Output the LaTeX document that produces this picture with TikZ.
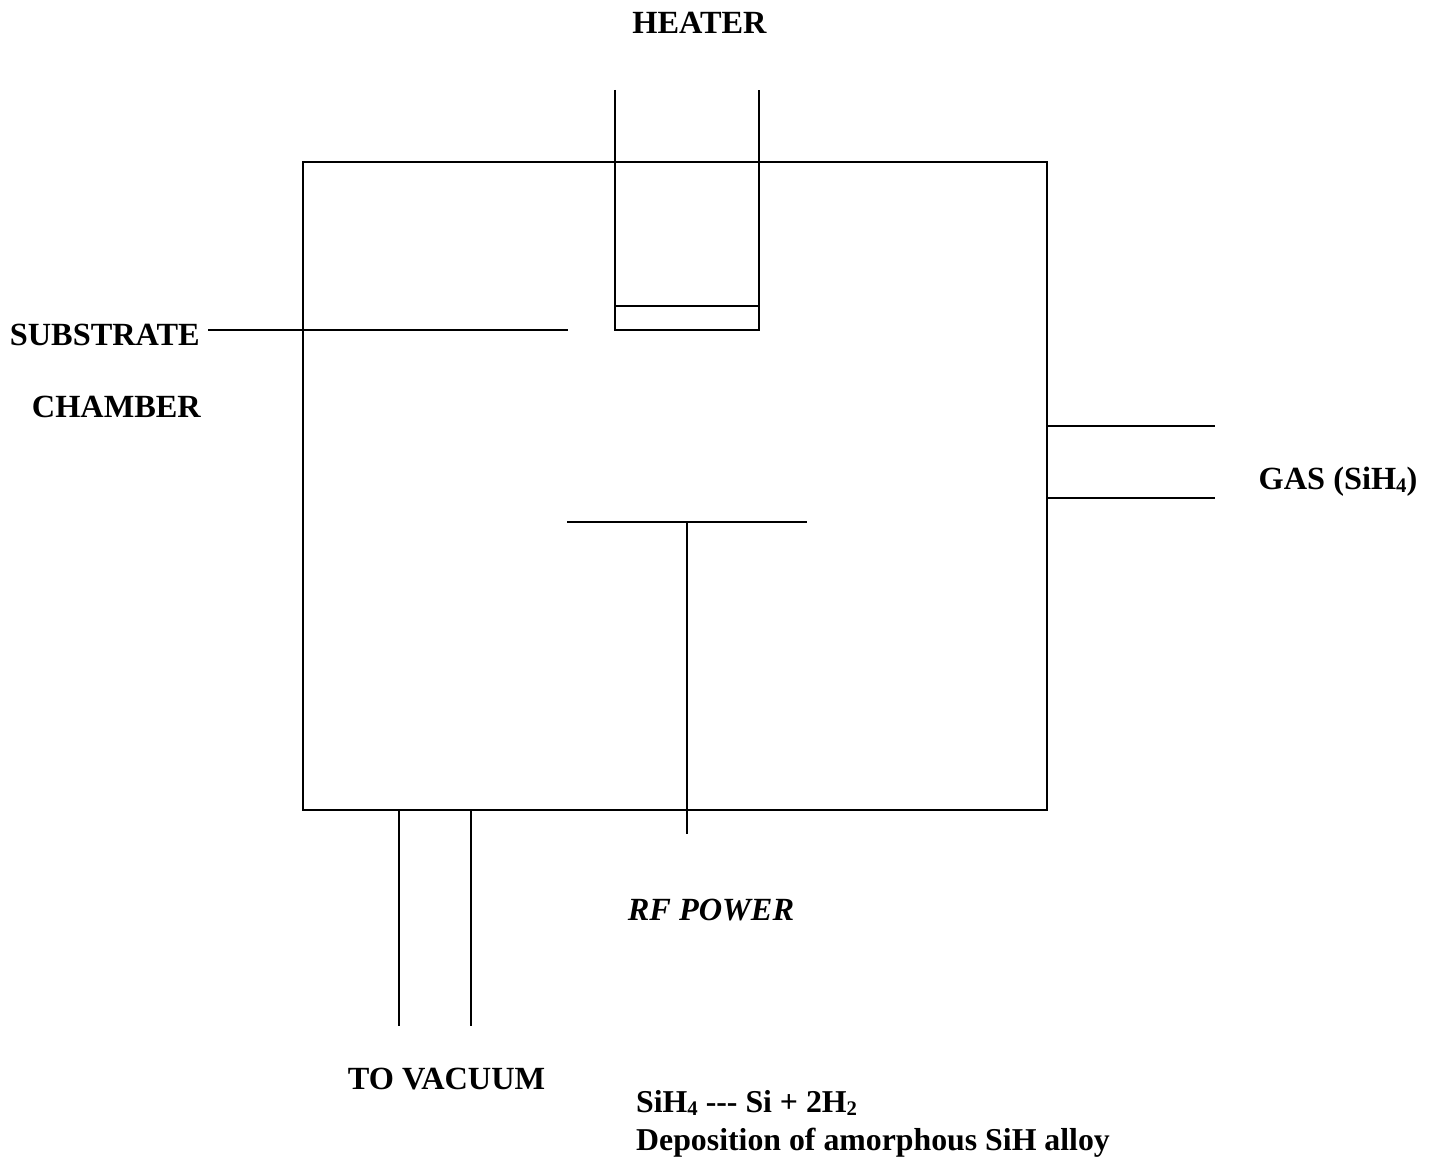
\documentclass[tikz,border=0pt]{standalone}
\usepackage{fontspec}
\setmainfont{Liberation Serif}
\newcommand{\subnum}[1]{\raisebox{-0.75pt}{\fontsize{5.9}{7}\selectfont #1}}
\tikzset{
  wall/.style={line width=0.5pt,black},
  lbl/.style={font=\fontsize{9.2}{11}\selectfont\bfseries,inner sep=0pt},
  lblsmall/.style={font=\fontsize{9.05}{11}\selectfont\bfseries,inner sep=0pt},
}
\begin{document}
\begin{tikzpicture}[scale=1.0]
\useasboundingbox (0,0) rectangle (14.34,11.63);
% chamber
\draw[wall] (3.03,10.01) rectangle (10.47,3.53);
% heater
\draw[wall] (6.15,10.73) -- (6.15,8.33) -- (7.59,8.33) -- (7.59,10.73);
\draw[wall] (6.15,8.57) -- (7.59,8.57);
% substrate
\draw[wall] (2.08,8.33) -- (5.68,8.33);
% gas inlet
\draw[wall] (10.47,7.37) -- (12.15,7.37);
\draw[wall] (10.47,6.65) -- (12.15,6.65);
% electrode
\draw[wall] (5.67,6.41) -- (8.07,6.41);
\draw[wall] (6.87,6.41) -- (6.87,3.29);
% vacuum
\draw[wall] (3.99,3.53) -- (3.99,1.37);
\draw[wall] (4.71,3.53) -- (4.71,1.37);
% labels
\node[lbl] (heater) at (6.995,11.40) {HEATER};
\node[lbl,anchor=east] (substrate) at (2.005,8.28) {SUBSTRATE};
\node[lbl,anchor=east] (chamber) at (2.015,7.56) {CHAMBER};
\node[lbl,anchor=base west] (gas) at (12.58,6.73) {GAS (SiH\subnum{4})};
\node[lbl,font=\fontsize{9.2}{11}\selectfont\bfseries\itshape] (rfpower) at (7.11,2.53) {RF POWER};
\node[lbl] (vacuum) at (4.465,0.84) {TO VACUUM};
\node[lblsmall,anchor=base west] (reaction) at (6.355,0.50) {SiH\subnum{4} -{}-{}- Si + 2H\subnum{2}};
\node[lblsmall,anchor=base west] (deposition) at (6.355,0.12) {Deposition of amorphous SiH alloy};
\end{tikzpicture}
\end{document}
